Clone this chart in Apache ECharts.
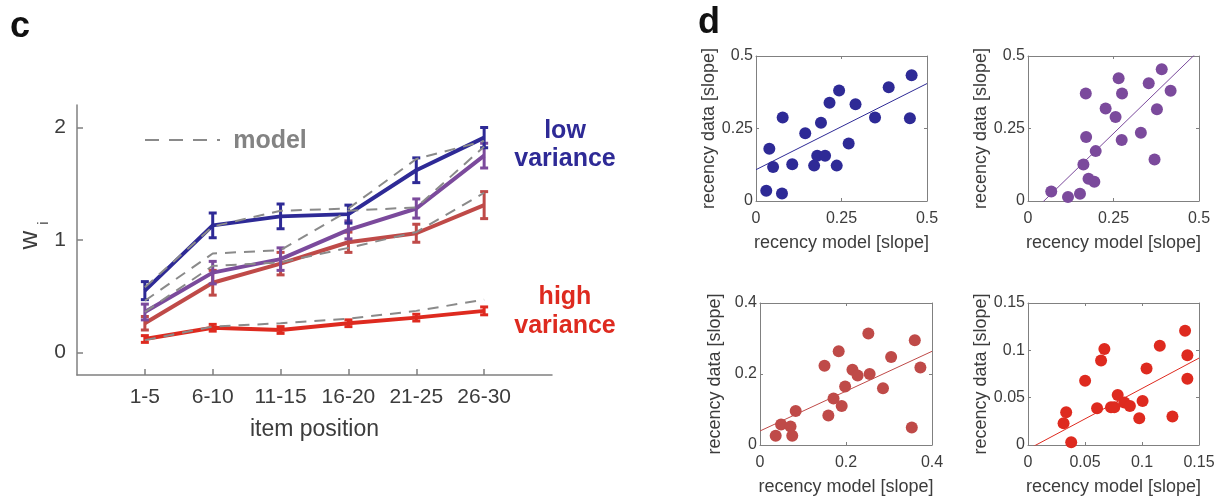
<!DOCTYPE html>
<html>
<head>
<meta charset="utf-8">
<script src="https://cdn.jsdelivr.net/npm/echarts@6/dist/echarts.min.js"></script>
<style>
  html, body { margin: 0; padding: 0; background: #fff; }
  #chart { width: 1225px; height: 501px; }
</style>
</head>
<body>
<div id="chart"></div>
<script>
// panel c: weights per item position
const positions = ['1-5', '6-10', '11-15', '16-20', '21-25', '26-30'];
const lowVar = [0.55, 1.13, 1.21, 1.23, 1.62, 1.91];
const lowVarErr = [0.08, 0.11, 0.11, 0.08, 0.11, 0.09];
const midLowVar = [0.36, 0.71, 0.83, 1.09, 1.28, 1.75];
const midLowVarErr = [0.07, 0.10, 0.10, 0.08, 0.085, 0.11];
const midHighVar = [0.26, 0.62, 0.79, 0.98, 1.06, 1.31];
const midHighVarErr = [0.06, 0.11, 0.10, 0.09, 0.08, 0.12];
const highVar = [0.12, 0.22, 0.20, 0.26, 0.31, 0.37];
const highVarErr = [0.03, 0.03, 0.03, 0.03, 0.03, 0.035];
const modelLow = [0.58, 1.12, 1.26, 1.28, 1.72, 1.88];
const modelMidLow = [0.46, 0.88, 0.91, 1.26, 1.29, 1.83];
const modelMidHigh = [0.36, 0.77, 0.80, 0.93, 1.07, 1.42];
const modelHigh = [0.11, 0.23, 0.26, 0.30, 0.37, 0.47];

// panel d: recency slopes (model x, data y), fit = [intercept, slope]
const blueModelSlope = [0.030, 0.039, 0.050, 0.076, 0.078, 0.106, 0.144, 0.170, 0.179, 0.190, 0.202, 0.215, 0.236, 0.243, 0.271, 0.291, 0.348, 0.388, 0.450, 0.455];
const blueDataSlope = [0.035, 0.180, 0.117, 0.026, 0.288, 0.127, 0.234, 0.122, 0.156, 0.270, 0.156, 0.339, 0.122, 0.381, 0.198, 0.334, 0.288, 0.392, 0.285, 0.434];
const blueFit = [0.108, 0.594];
const purpleModelSlope = [0.068, 0.117, 0.152, 0.162, 0.170, 0.169, 0.177, 0.194, 0.198, 0.227, 0.256, 0.265, 0.274, 0.275, 0.330, 0.353, 0.370, 0.377, 0.391, 0.417];
const purpleDataSlope = [0.033, 0.014, 0.025, 0.126, 0.221, 0.371, 0.077, 0.066, 0.172, 0.319, 0.290, 0.423, 0.210, 0.371, 0.235, 0.406, 0.143, 0.316, 0.454, 0.380];
const purpleFit = [-0.053, 1.144];
const rosyModelSlope = [0.0365, 0.049, 0.071, 0.075, 0.083, 0.150, 0.159, 0.171, 0.183, 0.190, 0.198, 0.215, 0.227, 0.252, 0.255, 0.286, 0.305, 0.353, 0.360, 0.373];
const rosyDataSlope = [0.026, 0.058, 0.052, 0.026, 0.096, 0.223, 0.083, 0.131, 0.264, 0.110, 0.165, 0.212, 0.196, 0.314, 0.200, 0.160, 0.248, 0.049, 0.295, 0.218];
const rosyFit = [0.0395, 0.561];
const redModelSlope = [0.0312, 0.0335, 0.0379, 0.0501, 0.0606, 0.0641, 0.0670, 0.0728, 0.0757, 0.0787, 0.0845, 0.0894, 0.0976, 0.1005, 0.1040, 0.1156, 0.1267, 0.1378, 0.1398, 0.1398];
const redDataSlope = [0.0229, 0.0346, 0.0028, 0.0678, 0.0388, 0.0893, 0.1013, 0.0399, 0.0399, 0.0529, 0.0448, 0.0413, 0.0282, 0.0466, 0.0808, 0.1048, 0.0300, 0.1207, 0.0949, 0.0699];
const redFit = [-0.0045, 0.642];

const BLUE = '#2e2a96', PURPLE = '#7b4a9c', ROSY = '#bf4a48', RED = '#de2a1f';
const AXIS = '#808080', TXT = '#3c3c3c', FONT = 'Liberation Sans';

const chart = echarts.init(document.getElementById('chart'));

function lineSeries(vals, color, width, dashed, z) {
  return {
    type: 'line', xAxisIndex: 0, yAxisIndex: 0, z: z,
    data: vals.map((v, i) => [i + 1, v]),
    showSymbol: false, silent: true,
    lineStyle: { color: color, width: width, type: dashed ? [11, 8] : 'solid' }
  };
}

function errorBars(vals, errs, color, z) {
  return {
    type: 'custom', xAxisIndex: 0, yAxisIndex: 0, z: z, silent: true,
    data: vals.map((v, i) => [i + 1, v - errs[i], v + errs[i]]),
    encode: { x: 0, y: [1, 2] },
    renderItem: function (params, api) {
      const lo = api.coord([api.value(0), api.value(1)]);
      const hi = api.coord([api.value(0), api.value(2)]);
      const w = 4;
      const st = () => ({ stroke: color, lineWidth: 3 });
      return {
        type: 'group',
        children: [
          { type: 'line', shape: { x1: lo[0], y1: lo[1], x2: hi[0], y2: hi[1] }, style: st() },
          { type: 'line', shape: { x1: lo[0] - w, y1: lo[1], x2: lo[0] + w, y2: lo[1] }, style: st() },
          { type: 'line', shape: { x1: hi[0] - w, y1: hi[1], x2: hi[0] + w, y2: hi[1] }, style: st() }
        ]
      };
    }
  };
}

// scatter panels
const panels = [
  { grid: { left: 756, top: 56, width: 171, height: 145 }, max: 0.5, step: 0.25, color: BLUE, x: blueModelSlope, y: blueDataSlope, fit: blueFit, yGap: 33 },
  { grid: { left: 1028, top: 56, width: 171, height: 145 }, max: 0.5, step: 0.25, color: PURPLE, x: purpleModelSlope, y: purpleDataSlope, fit: purpleFit, yGap: 33 },
  { grid: { left: 760, top: 303, width: 172, height: 142 }, max: 0.4, step: 0.2, color: ROSY, x: rosyModelSlope, y: rosyDataSlope, fit: rosyFit, yGap: 36 },
  { grid: { left: 1028, top: 303, width: 171, height: 142 }, max: 0.15, step: 0.05, color: RED, x: redModelSlope, y: redDataSlope, fit: redFit, yGap: 35 }
];

const grids = [{ left: 77, top: 105, width: 475, height: 270 }];
const xAxes = [{
  gridIndex: 0, type: 'value', min: 0, max: 7,
  axisLine: { onZero: false, lineStyle: { color: AXIS, width: 1.5 } },
  axisTick: { inside: true, length: 6, customValues: [1, 2, 3, 4, 5, 6], lineStyle: { color: AXIS, width: 1.5 } },
  axisLabel: { customValues: [1, 2, 3, 4, 5, 6], formatter: v => positions[v - 1], fontSize: 21, fontFamily: FONT, color: TXT, margin: 12 },
  splitLine: { show: false },
  name: 'item position', nameLocation: 'middle', nameGap: 43,
  nameTextStyle: { fontSize: 23, fontFamily: FONT, color: TXT }
}];
const yAxes = [{
  gridIndex: 0, type: 'value', min: -0.2, max: 2.2,
  axisLine: { show: true, onZero: false, lineStyle: { color: AXIS, width: 1.5 } },
  axisTick: { show: true, inside: true, length: 6, customValues: [0, 1, 2], lineStyle: { color: AXIS, width: 1.5 } },
  axisLabel: { customValues: [0, 1, 2], fontSize: 21, fontFamily: FONT, color: TXT, margin: 11 },
  splitLine: { show: false }
}];

const series = [
  lineSeries(highVar, RED, 4, false, 2),
  lineSeries(midHighVar, ROSY, 4, false, 3),
  lineSeries(midLowVar, PURPLE, 4, false, 4),
  lineSeries(lowVar, BLUE, 4, false, 5),
  errorBars(highVar, highVarErr, RED, 2),
  errorBars(midHighVar, midHighVarErr, ROSY, 3),
  errorBars(midLowVar, midLowVarErr, PURPLE, 4),
  errorBars(lowVar, lowVarErr, BLUE, 5),
  lineSeries(modelHigh, '#8a8a8a', 2, true, 6),
  lineSeries(modelMidHigh, '#8a8a8a', 2, true, 6),
  lineSeries(modelMidLow, '#8a8a8a', 2, true, 6),
  lineSeries(modelLow, '#8a8a8a', 2, true, 6)
];

panels.forEach((p, k) => {
  const g = k + 1;
  grids.push(p.grid);
  const common = {
    gridIndex: g, type: 'value', min: 0, max: p.max, interval: p.step,
    axisLine: { show: true, onZero: false, lineStyle: { color: AXIS, width: 1 } },
    axisTick: { show: true, inside: true, length: 3, lineStyle: { color: AXIS } },
    splitLine: { show: false }
  };
  const lab = { fontSize: 16, fontFamily: FONT, color: TXT };
  xAxes.push(Object.assign({}, common, {
    position: 'bottom',
    axisLabel: Object.assign({ margin: 10 }, lab),
    name: 'recency model [slope]', nameLocation: 'middle', nameGap: 33,
    nameTextStyle: { fontSize: 18, fontFamily: FONT, color: TXT }
  }));
  xAxes.push(Object.assign({}, common, { position: 'top', axisLabel: { show: false } }));
  yAxes.push(Object.assign({}, common, {
    position: 'left',
    axisLabel: Object.assign({ margin: 3 }, lab),
    name: 'recency data [slope]', nameLocation: 'middle', nameGap: p.yGap,
    nameTextStyle: { fontSize: 18, fontFamily: FONT, color: TXT }
  }));
  yAxes.push(Object.assign({}, common, { position: 'right', axisLabel: { show: false } }));
  const xi = 1 + k * 2, yi = 1 + k * 2;
  series.push({
    type: 'line', xAxisIndex: xi, yAxisIndex: yi, silent: true, showSymbol: false, clip: true,
    data: [[0, p.fit[0]], [p.max, p.fit[0] + p.fit[1] * p.max]],
    lineStyle: { color: p.color, width: 1 }, z: 3
  });
  series.push({
    type: 'scatter', xAxisIndex: xi, yAxisIndex: yi, silent: true,
    data: p.x.map((v, i) => [v, p.y[i]]),
    symbolSize: 12, itemStyle: { color: p.color, opacity: 1 }, z: 4
  });
});

chart.setOption({
  animation: false,
  backgroundColor: '#fff',
  grid: grids,
  xAxis: xAxes,
  yAxis: yAxes,
  series: series,
  graphic: [
    { type: 'text', left: 10, top: 9, style: { text: 'c', fontSize: 36, fontWeight: 'bold', fontFamily: FONT, fill: '#111' } },
    { type: 'text', left: 698, top: 5, style: { text: 'd', fontSize: 36, fontWeight: 'bold', fontFamily: FONT, fill: '#111' } },
    { type: 'text', x: 30, y: 240, rotation: Math.PI / 2, style: { text: 'w', fontSize: 26, fontFamily: FONT, fill: TXT, align: 'center', verticalAlign: 'middle' } },
    { type: 'text', x: 44, y: 223, rotation: Math.PI / 2, style: { text: 'i', fontSize: 15, fontFamily: FONT, fill: TXT, align: 'center', verticalAlign: 'middle' } },
    { type: 'line', shape: { x1: 145, y1: 140, x2: 220, y2: 140 }, style: { stroke: '#8a8a8a', lineWidth: 2, lineDash: [14, 10] } },
    { type: 'text', x: 270, y: 141, style: { text: 'model', fontSize: 25, fontWeight: 'bold', fontFamily: FONT, fill: '#838383', align: 'center', verticalAlign: 'middle' } },
    { type: 'text', x: 565, y: 131, style: { text: 'low', fontSize: 25, fontWeight: 'bold', fontFamily: FONT, fill: BLUE, align: 'center', verticalAlign: 'middle' } },
    { type: 'text', x: 565, y: 159, style: { text: 'variance', fontSize: 25, fontWeight: 'bold', fontFamily: FONT, fill: BLUE, align: 'center', verticalAlign: 'middle' } },
    { type: 'text', x: 565, y: 297, style: { text: 'high', fontSize: 25, fontWeight: 'bold', fontFamily: FONT, fill: RED, align: 'center', verticalAlign: 'middle' } },
    { type: 'text', x: 565, y: 326, style: { text: 'variance', fontSize: 25, fontWeight: 'bold', fontFamily: FONT, fill: RED, align: 'center', verticalAlign: 'middle' } }
  ]
});
window.addEventListener('resize', () => chart.resize());
</script>
</body>
</html>
